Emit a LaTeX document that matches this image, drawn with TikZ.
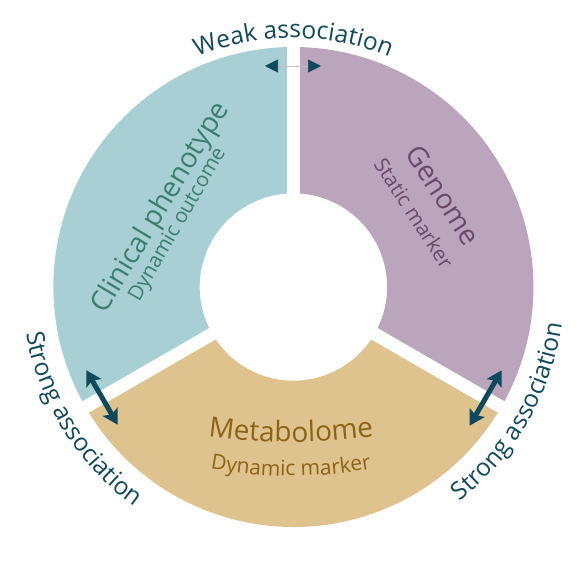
\documentclass[tikz,border=0pt]{standalone}
\usepackage{fontspec}
\setmainfont{Open Sans}
\usetikzlibrary{decorations.text,arrows.meta,calc}
\definecolor{tealfill}{HTML}{A7CFD4}
\definecolor{purplefill}{HTML}{BBA5BC}
\definecolor{tanfill}{HTML}{DEC38F}
\definecolor{tealtext}{HTML}{3B7F6F}
\definecolor{purpletext}{HTML}{6A4A6C}
\definecolor{tantext}{HTML}{8C6414}
\definecolor{darkblue}{HTML}{0E4A5E}
\def\RingOut{240}
\def\RingIn{93.7}
\tikzset{
  gapline/.style={white, line width=13pt},
  strongarrow/.style={darkblue, line width=5pt,
    {Stealth[length=15pt,width=17pt,inset=3pt]}-{Stealth[length=15pt,width=17pt,inset=3pt]}},
  weakarrow/.style={black!25, line width=0.6pt,
    {Triangle[length=13pt,width=13pt,color=darkblue]}-{Triangle[length=13pt,width=13pt,color=darkblue]}},
  titletext/.style={font=\fontsize{28pt}{32pt}\selectfont, inner sep=0pt},
  subtext/.style={font=\fontsize{20.5pt}{24pt}\selectfont, inner sep=0pt}
}
\begin{document}
\begin{tikzpicture}[x=1pt,y=1pt]
\useasboundingbox (0,0) rectangle (586,572);
\coordinate (C) at (293.4,285);
% sectors
\fill[tealfill] ([shift={(90:\RingOut)}]C) arc[start angle=90,end angle=210,radius=\RingOut]
  -- ([shift={(210:\RingIn)}]C) arc[start angle=210,end angle=90,radius=\RingIn] -- cycle;
\fill[tanfill] ([shift={(210:\RingOut)}]C) arc[start angle=210,end angle=330,radius=\RingOut]
  -- ([shift={(330:\RingIn)}]C) arc[start angle=330,end angle=210,radius=\RingIn] -- cycle;
\fill[purplefill] ([shift={(-30:\RingOut)}]C) arc[start angle=-30,end angle=90,radius=\RingOut]
  -- ([shift={(90:\RingIn)}]C) arc[start angle=90,end angle=-30,radius=\RingIn] -- cycle;
% gaps
\draw[gapline] (C) -- ++(90:255);
\draw[gapline] (C) -- ++(210:255);
\draw[gapline] (C) -- ++(330:255);
% arrows
\coordinate (wl) at ($(C)+(-28.4,221)$);
\coordinate (wr) at ($(C)+(27.6,221)$);
\draw[weakarrow] (wl) -- (wr);
\coordinate (sl1) at ([shift={(210:221)}]C);
\coordinate (sla) at ($(sl1)+(120:31.5)$);
\coordinate (slb) at ($(sl1)+(300:31.5)$);
\draw[strongarrow] (sla) -- (slb);
\coordinate (sr1) at ([shift={(330:222)}]C);
\coordinate (sra) at ($(sr1)+(60:32)$);
\coordinate (srb) at ($(sr1)+(240:32)$);
\draw[strongarrow] (sra) -- (srb);
% outer labels
\path[decorate, decoration={text along path, text align=center,
  text={|\fontsize{24.5pt}{28pt}\selectfont\color{darkblue}|Weak association}}]
  ([shift={(130:249)}]C) arc[start angle=130,end angle=50,radius=249];
\path[decorate, decoration={text along path, text align=center,
  text={|\fontsize{24.5pt}{28pt}\selectfont\color{darkblue}|Strong association}}]
  ([shift={(172:271)}]C) arc[start angle=172,end angle=252,radius=271];
\path[decorate, decoration={text along path, text align=center,
  text={|\fontsize{24.5pt}{28pt}\selectfont\color{darkblue}|Strong association}}]
  ([shift={(-70:271)}]C) arc[start angle=-70,end angle=10,radius=271];
% sector labels
\node[titletext, text=tealtext, rotate=59] (clin) at (161,364) {Clinical phenotype};
\node[subtext, text=tealtext, rotate=60] (clinsub) at (178,347) {Dynamic outcome};
\node[titletext, text=purpletext, rotate=-57] (gen) at (443,377) {Genome};
\node[subtext, text=purpletext, rotate=-57] (gensub) at (414,359) {Static marker};
\coordinate (M1) at (291,730);
\coordinate (M2) at (291,546);
\path[decorate, decoration={text along path, text align=center,
  text={|\fontsize{28pt}{32pt}\selectfont\color{tantext}|Metabolome}}]
  ([shift={(254:600)}]M1) arc[start angle=254,end angle=286,radius=600];
\path[decorate, decoration={text along path, text align=center,
  text={|\fontsize{21pt}{25pt}\selectfont\color{tantext}|Dynamic marker}}]
  ([shift={(250:450)}]M2) arc[start angle=250,end angle=290,radius=450];
\end{tikzpicture}
\end{document}
